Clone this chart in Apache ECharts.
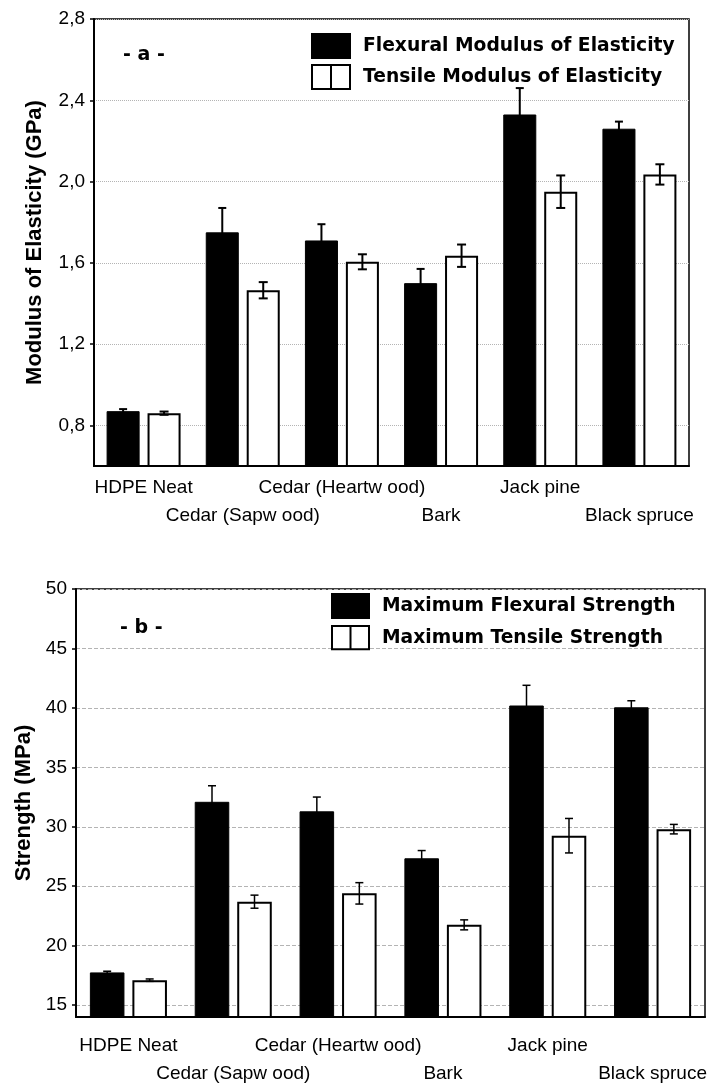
<!DOCTYPE html>
<html>
<head>
<meta charset="utf-8">
<script src="https://cdn.jsdelivr.net/npm/echarts@6/dist/echarts.min.js"></script>
<style>
  html, body { margin: 0; padding: 0; background: #fff; }
  #chart { width: 717px; height: 1085px; }
</style>
</head>
<body>
<div id="chart"></div>
<script>
// Fillers compared in both panels
const categories = ['HDPE Neat', 'Cedar (Sapw ood)', 'Cedar (Heartw ood)', 'Bark', 'Jack pine', 'Black spruce'];

// Panel a: modulus of elasticity (GPa), mean and standard deviation
const flexModulus    = [0.87, 1.75, 1.71, 1.50, 2.33, 2.26];
const flexModulusErr = [0.01, 0.12, 0.08, 0.07, 0.13, 0.035];
const tensModulus    = [0.86, 1.465, 1.605, 1.635, 1.95, 2.035];
const tensModulusErr = [0.008, 0.04, 0.037, 0.055, 0.08, 0.05];

// Panel b: maximum strength (MPa), mean and standard deviation
const flexStrength    = [17.75, 32.1, 31.3, 27.35, 40.2, 40.05];
const flexStrengthErr = [0.1, 1.35, 1.2, 0.65, 1.7, 0.55];
const tensStrength    = [17.1, 23.7, 24.4, 21.75, 29.25, 29.8];
const tensStrengthErr = [0.1, 0.55, 0.9, 0.42, 1.45, 0.4];

// Tick values
const modulusTicks  = [0.8, 1.2, 1.6, 2.0, 2.4, 2.8];
const strengthTicks = [15, 20, 25, 30, 35, 40, 45, 50];

const seriesNames = {
  flexModulus: 'Flexural Modulus of Elasticity',
  tensModulus: 'Tensile Modulus of Elasticity',
  flexStrength: 'Maximum Flexural Strength',
  tensStrength: 'Maximum Tensile Strength'
};

const AX_FONT = '"Liberation Sans", Arial, Helvetica, sans-serif';
const LEG_FONT = '"DejaVu Sans", "Liberation Sans", sans-serif';

const layoutA = { catGap: 0.254, barGap: 0.24 };
const layoutB = { catGap: 0.265, barGap: 0.23 };

// Error bar drawn over one bar of a pair; side = -1 (left bar) or +1 (right bar)
function errorRenderer(layout, side, lineWidth, capHalf) {
  return function (params, api) {
    const x = api.value(0), v = api.value(1), e = api.value(2);
    const base = api.coord([x, v]);
    const band = api.size([1, 0])[0];
    const w = band * (1 - layout.catGap) / (2 + layout.barGap);
    const cx = base[0] + side * w * (1 + layout.barGap) / 2;
    const yHi = api.coord([x, v + e])[1];
    const yLo = api.coord([x, v - e])[1];
    const style = { stroke: '#000', lineWidth: lineWidth };
    return {
      type: 'group',
      children: [
        { type: 'line', shape: { x1: cx, y1: yHi, x2: cx, y2: yLo }, style: style },
        { type: 'line', shape: { x1: cx - capHalf, y1: yHi, x2: cx + capHalf, y2: yHi }, style: style },
        { type: 'line', shape: { x1: cx - capHalf, y1: yLo, x2: cx + capHalf, y2: yLo }, style: style }
      ]
    };
  };
}

function errData(vals, errs) {
  return vals.map((v, i) => [i, v, errs[i]]);
}

function xAxisFor(gridIndex, tickInside, tickLen, margin) {
  return {
    type: 'category',
    gridIndex: gridIndex,
    data: categories,
    axisLine: { lineStyle: { color: '#000', width: 2 } },
    axisTick: { alignWithLabel: true, inside: tickInside, length: tickLen, lineStyle: { color: '#000', width: 2 } },
    axisLabel: {
      interval: 0,
      margin: margin,
      color: '#000',
      fontFamily: AX_FONT,
      fontSize: 19,
      lineHeight: 28,
      formatter: (val, idx) => (idx % 2 ? '\n' + val : val)
    },
    splitLine: { show: false }
  };
}

function yAxisFor(gridIndex, min, max, ticks, name, nameGap, dash, fmt) {
  return {
    type: 'value',
    gridIndex: gridIndex,
    min: min,
    max: max,
    name: name,
    nameLocation: 'middle',
    nameGap: nameGap,
    nameTextStyle: { color: '#000', fontFamily: AX_FONT, fontWeight: 'bold', fontSize: 22 },
    axisLine: { show: true, lineStyle: { color: '#000', width: 2 } },
    axisTick: { show: true, length: 4, customValues: ticks, lineStyle: { color: '#000', width: 1.5 } },
    axisLabel: { customValues: ticks, margin: 9, color: '#000', fontFamily: AX_FONT, fontSize: 19, formatter: fmt },
    splitLine: { show: true, lineStyle: { color: '#b4b4b4', width: 1, type: dash } }
  };
}

const legendText = { fontFamily: LEG_FONT, fontWeight: 'bold', fontSize: 18.7, color: '#000', padding: [0, 0, 0, 8] };
const splitIcon = 'path://M0,0H38V24H0ZM19,0V24';

const option = {
  animation: false,
  backgroundColor: '#fff',
  title: [
    { text: '- a -', left: 123, top: 46, padding: 0, textStyle: { fontFamily: LEG_FONT, fontWeight: 'bold', fontSize: 19, color: '#000' } },
    { text: '- b -', left: 120, top: 619, padding: 0, textStyle: { fontFamily: LEG_FONT, fontWeight: 'bold', fontSize: 19, color: '#000' } }
  ],
  legend: [
    {
      left: 311, top: 33, orient: 'vertical', itemWidth: 38, itemHeight: 24, itemGap: 5,
      selectedMode: false, padding: 0,
      data: [{ name: seriesNames.flexModulus, icon: 'rect' }, { name: seriesNames.tensModulus, icon: splitIcon }],
      textStyle: legendText
    },
    {
      left: 331, top: 593, orient: 'vertical', itemWidth: 37, itemHeight: 24, itemGap: 6,
      selectedMode: false, padding: 0,
      data: [{ name: seriesNames.flexStrength, icon: 'rect' }, { name: seriesNames.tensStrength, icon: splitIcon }],
      textStyle: legendText
    }
  ],
  grid: [
    { left: 94, top: 19, width: 595, height: 447, show: true, borderColor: '#000', borderWidth: 1.5, containLabel: false, outerBoundsMode: 'none' },
    { left: 76, top: 589, width: 629, height: 428, show: true, borderColor: '#000', borderWidth: 1.5, containLabel: false, outerBoundsMode: 'none' }
  ],
  xAxis: [
    xAxisFor(0, true, 4, 8),
    xAxisFor(1, false, 6, 15)
  ],
  yAxis: [
    yAxisFor(0, 0.6, 2.8, modulusTicks, 'Modulus of Elasticity (GPa)', 48, 'dotted', v => v.toFixed(1).replace('.', ',')),
    yAxisFor(1, 14, 50, strengthTicks, 'Strength (MPa)', 40, 'dashed', v => String(v))
  ],
  series: [
    {
      type: 'bar', name: seriesNames.flexModulus, xAxisIndex: 0, yAxisIndex: 0,
      data: flexModulus, barGap: '24%', barCategoryGap: '25.4%',
      itemStyle: { color: '#000', borderColor: '#000', borderWidth: 1 }
    },
    {
      type: 'bar', name: seriesNames.tensModulus, xAxisIndex: 0, yAxisIndex: 0,
      data: tensModulus, barGap: '24%', barCategoryGap: '25.4%',
      itemStyle: { color: '#fff', borderColor: '#000', borderWidth: 2 }
    },
    {
      type: 'custom', xAxisIndex: 0, yAxisIndex: 0, z: 5,
      renderItem: errorRenderer(layoutA, -1, 2, 4),
      data: errData(flexModulus, flexModulusErr)
    },
    {
      type: 'custom', xAxisIndex: 0, yAxisIndex: 0, z: 5,
      renderItem: errorRenderer(layoutA, 1, 2, 4.5),
      data: errData(tensModulus, tensModulusErr)
    },
    {
      type: 'bar', name: seriesNames.flexStrength, xAxisIndex: 1, yAxisIndex: 1,
      data: flexStrength, barGap: '23%', barCategoryGap: '26.5%',
      itemStyle: { color: '#000', borderColor: '#000', borderWidth: 1 }
    },
    {
      type: 'bar', name: seriesNames.tensStrength, xAxisIndex: 1, yAxisIndex: 1,
      data: tensStrength, barGap: '23%', barCategoryGap: '26.5%',
      itemStyle: { color: '#fff', borderColor: '#000', borderWidth: 2 }
    },
    {
      type: 'custom', xAxisIndex: 1, yAxisIndex: 1, z: 5,
      renderItem: errorRenderer(layoutB, -1, 1.5, 4),
      data: errData(flexStrength, flexStrengthErr)
    },
    {
      type: 'custom', xAxisIndex: 1, yAxisIndex: 1, z: 5,
      renderItem: errorRenderer(layoutB, 1, 1.5, 4),
      data: errData(tensStrength, tensStrengthErr)
    }
  ]
};

const chart = echarts.init(document.getElementById('chart'), null, { renderer: 'canvas' });
chart.setOption(option);
</script>
</body>
</html>
